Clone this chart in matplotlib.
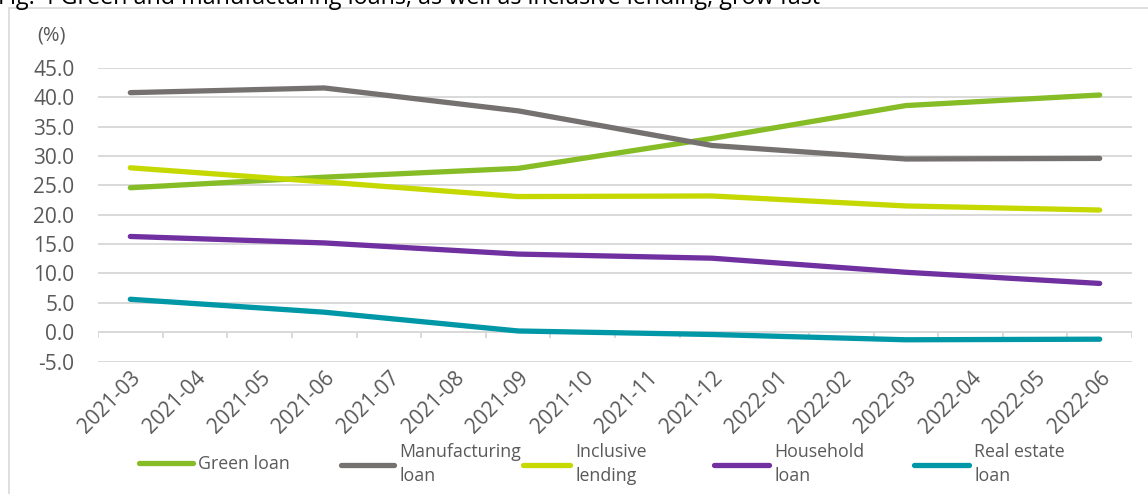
import matplotlib
matplotlib.use("Agg")
import matplotlib.pyplot as plt
from matplotlib.patches import Rectangle
from matplotlib.lines import Line2D
import numpy as np

plt.rcParams['font.family'] = ['Open Sans', 'DejaVu Sans']

categories = ["2021-03", "2021-04", "2021-05", "2021-06", "2021-07", "2021-08",
              "2021-09", "2021-10", "2021-11", "2021-12", "2022-01", "2022-02",
              "2022-03", "2022-04", "2022-05", "2022-06"]
data_months = ["2021-03", "2021-06", "2021-09", "2021-12", "2022-03", "2022-06"]

green_loan = [24.6, 26.4, 27.9, 33.0, 38.6, 40.4]
manufacturing_loan = [40.8, 41.6, 37.7, 31.8, 29.5, 29.6]
inclusive_lending = [28.0, 25.6, 23.1, 23.2, 21.5, 20.8]
household_loan = [16.3, 15.2, 13.3, 12.6, 10.2, 8.3]
real_estate_loan = [5.6, 3.4, 0.2, -0.4, -1.3, -1.2]

series_names = ["Green loan", "Manufacturing\nloan", "Inclusive\nlending",
                "Household\nloan", "Real estate\nloan"]
series_values = [green_loan, manufacturing_loan, inclusive_lending,
                 household_loan, real_estate_loan]
colors = ["#86BC25", "#767171", "#C5D800", "#7030A0", "#0097A7"]

title = "Fig. 4 Green and manufacturing loans, as well as inclusive lending, grow fast"
yticks = [-5.0, 0.0, 5.0, 10.0, 15.0, 20.0, 25.0, 30.0, 35.0, 40.0, 45.0]

W, H = 1148, 494
fig = plt.figure(figsize=(W / 100, H / 100), dpi=100)

# chart frame
fig.patches.append(Rectangle((9 / W, -0.1), 1.2, 1 - 8 / H + 0.1, transform=fig.transFigure,
                             fill=False, edgecolor="#D9D9D9", linewidth=1.2))
fig.text(-2 / W, 1 - 3.5 / H, title, fontsize=16.8, color="#000000", va="baseline", ha="left")

ax = fig.add_axes([98 / W, 1 - 361.5 / H, (1132 - 98) / W, (361.5 - 68) / H])
xpos = {c: i for i, c in enumerate(categories)}
xs = [xpos[m] for m in data_months]
for vals, col in zip(series_values, colors):
    ax.plot(xs, vals, color=col, linewidth=3.8, solid_capstyle="round",
            solid_joinstyle="round", zorder=3)

ax.set_xlim(-0.5, len(categories) - 0.5)
ax.set_ylim(-5, 45)
ax.set_yticks(yticks)
ax.set_yticklabels([f"{v:.1f}" for v in yticks], fontsize=15, color="#595959")
ax.yaxis.grid(True, color="#D9D9D9", linewidth=1.4)
ax.set_axisbelow(True)
for s in ax.spines.values():
    s.set_visible(False)
ax.tick_params(axis="y", length=0, pad=17)
ax.set_xticks(range(len(categories)))
ax.set_xticklabels(categories, rotation=45, ha="right", rotation_mode="anchor",
                   fontsize=15, color="#595959")
ax.tick_params(axis="x", length=0, pad=4)

# category axis at zero with boundary tick marks
ax.axhline(0, color="#D9D9D9", linewidth=1.4, zorder=1)
bounds = np.arange(len(categories) + 1) - 0.5
ax.vlines(bounds, -1.0, 0, color="#D9D9D9", linewidth=1.4, zorder=1)

fig.text(37 / W, 1 - 35 / H, "(%)", fontsize=14.5, color="#595959", va="center", ha="left")

# legend entries
legend_fs = 12.8
fs_px = legend_fs * 100 / 72
legend_x = [139, 341, 523, 714, 914]
handle_px = [54, 53, 47, 55, 55]
for name, col, lx, hp in zip(series_names, colors, legend_x, handle_px):
    h = Line2D([], [], color=col, linewidth=3.8, solid_capstyle="round")
    lg = fig.legend(handles=[h], labels=[name], loc="center left",
                    bbox_to_anchor=(lx / W, 1 - 464 / H), frameon=False,
                    fontsize=legend_fs, handlelength=hp / fs_px, handletextpad=0.3,
                    labelcolor="#595959", borderaxespad=0, borderpad=0)
    for t in lg.get_texts():
        t.set_linespacing(1.45)

fig.savefig("out.png", dpi=100)
